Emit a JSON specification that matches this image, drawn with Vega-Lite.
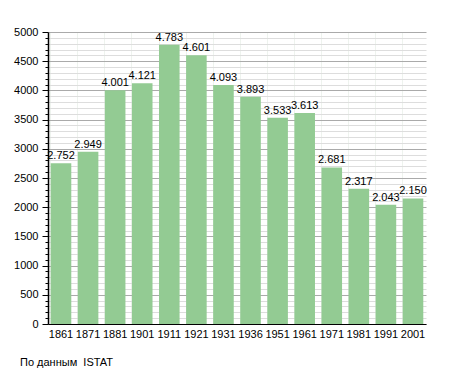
{
  "$schema": "https://vega.github.io/schema/vega-lite/v6.json",
  "width": 378,
  "height": 292,
  "autosize": {"type": "none"},
  "padding": {"left": 48, "top": 32, "right": 29, "bottom": 49},
  "background": "white",
  "config": {"view": {"stroke": null}, "font": "Liberation Sans"},
  "title": {"text": "По данным\u00a0 ISTAT", "orient": "bottom", "anchor": "start", "frame": "group", "dx": -28, "offset": 18, "fontSize": 11, "fontWeight": "normal", "color": "#000", "font": "Liberation Sans"},
  "data": {"values": [
    {"year": "1861", "pop": 2752, "label": "2.752"},
    {"year": "1871", "pop": 2949, "label": "2.949"},
    {"year": "1881", "pop": 4001, "label": "4.001"},
    {"year": "1901", "pop": 4121, "label": "4.121"},
    {"year": "1911", "pop": 4783, "label": "4.783"},
    {"year": "1921", "pop": 4601, "label": "4.601"},
    {"year": "1931", "pop": 4093, "label": "4.093"},
    {"year": "1936", "pop": 3893, "label": "3.893"},
    {"year": "1951", "pop": 3533, "label": "3.533"},
    {"year": "1961", "pop": 3613, "label": "3.613"},
    {"year": "1971", "pop": 2681, "label": "2.681"},
    {"year": "1981", "pop": 2317, "label": "2.317"},
    {"year": "1991", "pop": 2043, "label": "2.043"},
    {"year": "2001", "pop": 2150, "label": "2.150"}
  ]},
  "encoding": {
    "x": {"field": "year", "type": "ordinal", "sort": null,
      "scale": {"paddingInner": 0.24, "paddingOuter": 0.1},
      "axis": {"title": null, "labelAngle": 0, "labelFontSize": 11, "labelColor": "#000", "domainColor": "#000", "ticks": false, "labelPadding": 4, "grid": true, "gridColor": "#eef3ee", "bandPosition": 0}}
  },
  "layer": [
    {
      "mark": {"type": "bar", "color": "#93cb93"},
      "encoding": {
        "y": {"field": "pop", "type": "quantitative", "scale": {"domain": [0, 5000], "nice": false},
          "axis": {"title": null, "tickCount": 60, "labelOverlap": false, "values": [0,100,200,300,400,500,600,700,800,900,1000,1100,1200,1300,1400,1500,1600,1700,1800,1900,2000,2100,2200,2300,2400,2500,2600,2700,2800,2900,3000,3100,3200,3300,3400,3500,3600,3700,3800,3900,4000,4100,4200,4300,4400,4500,4600,4700,4800,4900,5000],
            "labelExpr": "datum.value % 500 === 0 ? format(datum.value, 'd') : ''",
            "labelFontSize": 11, "labelColor": "#000", "labelPadding": 4,
            "tickSize": {"condition": {"test": "datum.value % 500 === 0", "value": 6}, "value": 3},
            "tickColor": "#000", "domainColor": "#000", "domainWidth": 1.5,
            "gridColor": {"condition": {"test": "datum.value % 500 === 0", "value": "#aaaaaa"}, "value": "#dddddd"}}}
      }
    },
    {
      "mark": {"type": "text", "dy": -7, "fontSize": 11, "color": "#000", "font": "Liberation Sans"},
      "encoding": {
        "y": {"field": "pop", "type": "quantitative"},
        "text": {"field": "label"}
      }
    }
  ]
}
